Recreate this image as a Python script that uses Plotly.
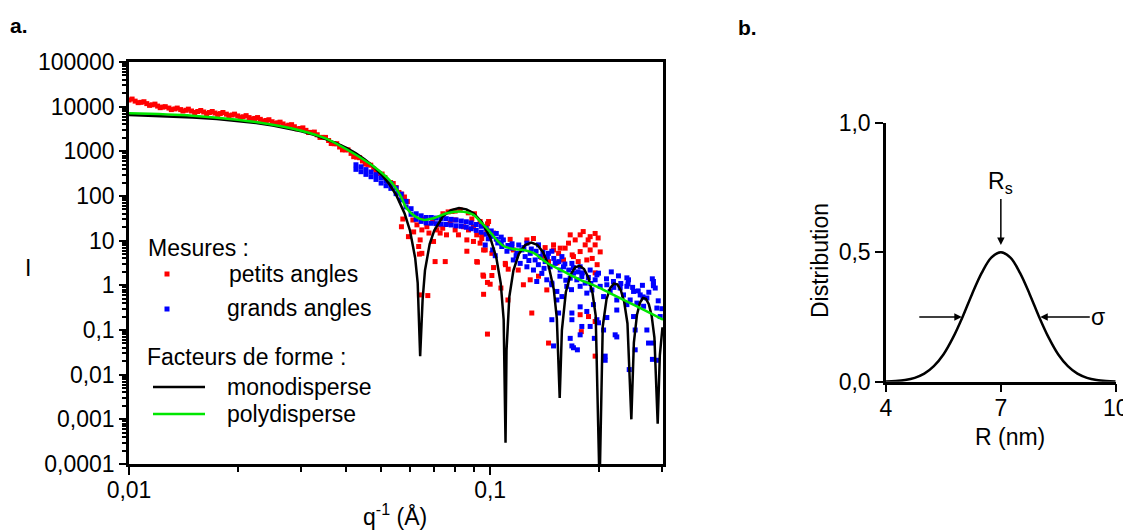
import plotly.graph_objects as go

# ---------- panel a : form factors
q_mono = [0.0100, 0.0125, 0.0150, 0.0175, 0.0200, 0.0225, 0.0250, 0.0275, 0.0300, 0.0325,
          0.0350, 0.0375, 0.0400, 0.0425, 0.0450, 0.0475, 0.0500, 0.0525, 0.0550, 0.0580,
          0.0600, 0.0620, 0.0630, 0.0640, 0.0650, 0.0660, 0.0680, 0.0700, 0.0740, 0.0780,
          0.0820, 0.0860, 0.0900, 0.0950, 0.1000, 0.1040, 0.1070, 0.1090, 0.1103, 0.1110,
          0.1130, 0.1160, 0.1200, 0.1250, 0.1300, 0.1350, 0.1400, 0.1450, 0.1500, 0.1530,
          0.1558, 0.1580, 0.1620, 0.1670, 0.1720, 0.1770, 0.1820, 0.1870, 0.1920, 0.1960,
          0.2009, 0.2050, 0.2100, 0.2150, 0.2200, 0.2250, 0.2300, 0.2350, 0.2400, 0.2460,
          0.2500, 0.2550, 0.2600, 0.2650, 0.2700, 0.2750, 0.2800, 0.2850, 0.2910, 0.2950,
          0.3000]
I_mono = [6525, 6167, 5755, 5298, 4808, 4301, 3789, 3285, 2795, 2334,
          1910, 1527, 1189, 898, 655, 457, 302, 188, 103, 40,
          16.7, 4.1, 1.14, 0.026, 0.47, 2.16, 8.4, 16.8, 35, 48.3,
          53.5, 50.2, 40.9, 25.6, 11.8, 4.2, 1.1, 0.17, 0.0003, 0.035,
          0.55, 2.17, 5.0, 8.0, 9.1, 8.1, 5.6, 2.85, 0.82, 0.18,
          0.003, 0.10, 0.70, 1.73, 2.53, 2.74, 2.32, 1.51, 0.68, 0.21,
          0.00003, 0.12, 0.49, 0.87, 1.09, 1.05, 0.78, 0.43, 0.14, 0.001,
          0.052, 0.22, 0.41, 0.52, 0.50, 0.38, 0.21, 0.068, 0.0008, 0.027,
          0.115]

q_poly = [0.0100, 0.0150, 0.0200, 0.0250, 0.0300, 0.0350, 0.0410, 0.0476, 0.0531, 0.0563,
          0.0587, 0.0620, 0.0654, 0.0697, 0.0758, 0.0826, 0.0899, 0.0938, 0.0979, 0.1022,
          0.1047, 0.1088, 0.1159, 0.1236, 0.1318, 0.1435, 0.1596, 0.1775, 0.1975, 0.2195,
          0.2442, 0.2716, 0.3010]
I_poly = [7100, 6300, 5100, 3950, 2900, 1950, 990, 455, 210, 106,
          53, 35, 29.2, 31.8, 41, 44.9, 37.8, 27, 19, 12.5,
          10, 7.6, 6.5, 6.2, 5.3, 3.2, 2.05, 1.33, 0.94, 0.61,
          0.40, 0.26, 0.17]

# ---------- mesures : petits angles
q_petits = [0.0100, 0.0104, 0.0108, 0.0112, 0.0116, 0.0120, 0.0124, 0.0129, 0.0134, 0.0139,
            0.0144, 0.0149, 0.0155, 0.0161, 0.0167, 0.0173, 0.0179, 0.0186, 0.0193, 0.0200,
            0.0207, 0.0215, 0.0223, 0.0231, 0.0240, 0.0249, 0.0258, 0.0267, 0.0277, 0.0287,
            0.0298, 0.0309, 0.0320, 0.0332, 0.0344, 0.0357, 0.0370, 0.0383, 0.0397, 0.0412,
            0.0427, 0.0443, 0.0459, 0.0476, 0.0493, 0.0511, 0.0530, 0.0549, 0.0569, 0.0590,
            0.0102, 0.0106, 0.0110, 0.0114, 0.0118, 0.0122, 0.0126, 0.0131, 0.0136, 0.0141,
            0.0146, 0.0152, 0.0158, 0.0164, 0.0170, 0.0176, 0.0182, 0.0189, 0.0196, 0.0203,
            0.0211, 0.0219, 0.0227, 0.0235, 0.0244, 0.0253, 0.0262, 0.0272, 0.0282, 0.0292,
            0.0303, 0.0314, 0.0326, 0.0338, 0.0350, 0.0363, 0.0376, 0.0390, 0.0404, 0.0419,
            0.0435, 0.0451, 0.0467, 0.0484, 0.0502, 0.0520, 0.0539, 0.0559, 0.0579,
            0.0573, 0.0611, 0.0627, 0.0614, 0.0647, 0.0668, 0.0677, 0.0640, 0.0634, 0.0647,
            0.0697, 0.0727, 0.0739, 0.0757, 0.0727, 0.0775, 0.0800, 0.0817, 0.0844, 0.0871,
            0.0899, 0.0918, 0.0862, 0.0899, 0.0938, 0.0959, 0.0990, 0.0979, 0.1022, 0.0704,
            0.0751, 0.0862, 0.0918, 0.0959, 0.1011, 0.0826, 0.0784, 0.0568, 0.0594, 0.0654,
            0.0693, 0.0712, 0.0800, 0.0890, 0.0938, 0.0948, 0.0765, 0.0800, 0.0870, 0.0905,
            0.0740, 0.0637, 0.0637, 0.0672, 0.0922, 0.1011, 0.0983, 0.1000, 0.0959, 0.1022,
            0.1071, 0.1120, 0.0983, 0.1103, 0.1122, 0.0983, 0.0948, 0.0969, 0.1101, 0.0955,
            0.1136, 0.1159, 0.1196, 0.1264, 0.1318, 0.1291, 0.1236, 0.1304, 0.1435, 0.1361,
            0.1498, 0.1547, 0.1648, 0.1775, 0.1892, 0.1953, 0.1701, 0.1852, 0.1953, 0.1775,
            0.1596, 0.1531, 0.1451, 0.1775, 0.1451, 0.1953, 0.1720, 0.1833, 0.1892, 0.1953,
            0.1991, 0.1687, 0.1613, 0.1753, 0.1917, 0.1978, 0.1810, 0.1563, 0.1868, 0.2017,
            0.1666, 0.1498, 0.1788, 0.1872, 0.1953, 0.1420, 0.1390]
I_petits = [14100, 13300, 12500, 11700, 11000, 10300, 9800, 9300, 8900, 8600,
            8300, 8000, 7800, 7600, 7400, 7200, 7000, 6800, 6500, 6200,
            5950, 5700, 5450, 5200, 4900, 4600, 4350, 4100, 3850, 3550,
            3250, 2950, 2650, 2350, 2050, 1750, 1480, 1250, 1080, 900,
            740, 610, 510, 400, 320, 260, 200, 155, 110, 75,
            14800, 12300, 12900, 10700, 11400, 9500, 10000, 8600, 9300, 8000,
            8800, 7400, 8200, 7000, 7800, 6700, 7400, 6300, 6800, 5700,
            6300, 5300, 5700, 4800, 5100, 4200, 4500, 3700, 3950, 3200,
            3350, 2650, 2700, 2050, 2050, 1500, 1480, 1080, 1080, 760,
            720, 520, 490, 330, 310, 210, 190, 120, 95,
            30.5, 29, 22.6, 15.7, 17.4, 20.5, 14.8, 10.4, 7.4, 5.2,
            9.6, 14.8, 19.0, 13.5, 22.6, 24.5, 17.4, 13.5, 20.5, 17.4,
            20.5, 13.5, 10.4, 9.6, 8.8, 6.2, 26.8, 17.4, 14.8, 3.4,
            3.4, 5.8, 3.4, 1.6, 5.2, 48.9, 45.2, 20.5, 12.3, 30.5,
            26.8, 17.4, 29.2, 30.5, 26.8, 13.5, 44, 46, 42, 40,
            40, 5.0, 0.61, 0.59, 3.3, 1.66, 1.16, 1.06, 0.63, 2.5,
            0.87, 0.47, 0.081, 2.9, 2.3, 23.8, 11.2, 6.2, 3.1, 1.7,
            10.7, 6.2, 2.2, 10.4, 11.2, 1.33, 1.03, 0.24, 0.79, 1.6,
            8.05, 5.2, 8.8, 13.5, 12.3, 14.5, 4.4, 3.7, 1.9, 5.7,
            3.7, 3.2, 3.4, 0.22, 0.051, 0.155, 10.4, 8.05, 6.2, 8.05,
            11.5, 4.8, 6.8, 3.4, 4.0, 2.9, 16, 6.8, 10.4, 5.6,
            13.5, 6.2, 0.092, 0.2, 0.026, 7.0, 4.2]

# ---------- mesures : grands angles
q_grands = [0.0425, 0.0439, 0.0453, 0.0468, 0.0483, 0.0499, 0.0515, 0.0531, 0.0549, 0.0567,
            0.0585, 0.0604, 0.0624, 0.0644, 0.0665, 0.0687, 0.0709, 0.0732, 0.0756, 0.0780,
            0.0805, 0.0832, 0.0859, 0.0886, 0.0915, 0.0945, 0.0975, 0.1007, 0.1040, 0.1073,
            0.0425, 0.0439, 0.0453, 0.0468, 0.0483, 0.0499, 0.0515, 0.0531, 0.0549, 0.0567,
            0.0585, 0.0604, 0.0624, 0.0644, 0.0665, 0.0687, 0.0709, 0.0732, 0.0756, 0.0780,
            0.0805, 0.0832, 0.0859, 0.0886, 0.0915, 0.0945, 0.0975, 0.1007, 0.1040, 0.1073,
            0.1077, 0.1113, 0.1148, 0.1186, 0.1224, 0.1250, 0.1291, 0.1332, 0.1376, 0.1420,
            0.1450, 0.1466, 0.1514, 0.1563, 0.1596, 0.1211, 0.1264, 0.1159, 0.1318, 0.1390,
            0.1435, 0.1346, 0.1482, 0.1530, 0.1580, 0.1630, 0.1666, 0.1701, 0.1738, 0.1794,
            0.1775, 0.1833, 0.1852, 0.1913, 0.1953, 0.1995, 0.2017, 0.2061, 0.2104, 0.2149,
            0.2195, 0.2242, 0.2291, 0.2340, 0.2391, 0.2416, 0.2442, 0.2495, 0.2549, 0.2603,
            0.2660, 0.2716, 0.2832, 0.2832, 0.2865, 0.2957, 0.2990, 0.1088, 0.1264, 0.1361,
            0.1482, 0.1580, 0.1684, 0.1775, 0.1892, 0.1975, 0.1482, 0.1530, 0.1482, 0.1547,
            0.1666, 0.1684, 0.1775, 0.1794, 0.1852, 0.1932, 0.1975, 0.2061, 0.2104, 0.2219,
            0.2242, 0.2391, 0.2495, 0.2521, 0.2716, 0.2745, 0.2832, 0.1684, 0.1498, 0.1701,
            0.1744, 0.1775, 0.1684, 0.1892, 0.1943, 0.1995, 0.2082, 0.2082, 0.2242, 0.2427,
            0.2521, 0.2814, 0.2895, 0.2895, 0.0969, 0.1016, 0.1050, 0.0988, 0.1033, 0.2391,
            0.2408, 0.2812, 0.2832, 0.2165, 0.2266, 0.1200, 0.1240, 0.1300, 0.1340, 0.1400,
            0.1440, 0.1500, 0.1550, 0.1610, 0.1650, 0.1700, 0.1750, 0.1800, 0.1870, 0.1150,
            0.1120, 0.1180, 0.1280, 0.1360, 0.1410, 0.1560, 0.1620, 0.1680, 0.1900, 0.2100,
            0.2200, 0.2300, 0.2480, 0.2570, 0.2650, 0.2750, 0.2920, 0.2640]
I_grands = [500, 450, 390, 345, 300, 255, 220, 190, 150, 110,
            76, 52, 40, 36, 33, 33, 32, 31.5, 31, 30,
            29, 27.5, 26.5, 25, 23, 21, 19, 16.5, 14.5, 12,
            395, 350, 305, 270, 235, 195, 170, 148, 113, 82,
            57, 39, 30, 27, 25, 24.5, 24, 23.5, 23, 22.5,
            21.5, 21, 20, 18.5, 17, 15.5, 14, 12.5, 10.8, 9,
            7.4, 5.8, 6.8, 5.2, 6.2, 4.4, 5.2, 3.7, 4.4, 3.4,
            5.2, 2.6, 3.1, 2.2, 2.6, 3.1, 2.6, 3.7, 2.2, 1.85,
            1.33, 1.22, 1.03, 0.73, 0.56, 0.95, 1.45, 1.87, 1.33, 1.57,
            0.95, 1.12, 0.67, 0.79, 1.33, 1.87, 0.95, 0.56, 1.03, 0.73,
            1.22, 0.47, 0.87, 0.61, 0.95, 1.33, 0.47, 0.73, 0.40, 0.61,
            0.34, 0.52, 1.22, 1.03, 0.87, 0.20, 0.30, 10.4, 8.8, 8.05,
            5.8, 4.4, 3.1, 2.6, 2.2, 1.72, 1.12, 0.47, 0.17, 0.24,
            0.065, 0.17, 0.33, 0.12, 0.26, 0.37, 0.17, 0.10, 0.19, 0.078,
            0.28, 0.37, 0.20, 0.10, 0.10, 0.051, 0.051, 0.044, 0.044, 0.040,
            0.036, 0.078, 0.24, 0.12, 0.065, 0.145, 0.026, 0.021, 0.07, 0.013,
            0.036, 0.022, 0.021, 0.31, 8, 6.2, 8.9, 11, 4.6, 1.47,
            1.08, 1.40, 0.98, 2.0, 1.63, 8.0, 7.0, 6.5, 5.8, 5.5,
            4.3, 4.0, 3.4, 3.0, 2.2, 2.5, 2.0, 1.9, 1.5, 8.5,
            7.8, 4.6, 3.6, 2.9, 2.4, 1.6, 1.3, 0.8, 1.1, 1.4,
            0.9, 1.1, 0.9, 0.75, 0.55, 0.7, 0.45, 1.0]

# ---------- panel b : size distribution
R_nm = [4.0, 4.25, 4.5, 4.75, 5.0, 5.25, 5.5, 5.75, 6.0, 6.25, 6.5, 6.75, 7.0,
        7.25, 7.5, 7.75, 8.0, 8.25, 8.5, 8.75, 9.0, 9.25, 9.5, 9.75, 10.0]
distribution = [0.001, 0.0027, 0.0066, 0.015, 0.031, 0.060, 0.105, 0.170, 0.25, 0.339, 0.42, 0.479, 0.5,
                0.479, 0.42, 0.339, 0.25, 0.170, 0.105, 0.060, 0.031, 0.015, 0.0066, 0.0027, 0.001]

y_ticks = [1e-4, 1e-3, 1e-2, 1e-1, 1, 10, 100, 1000, 10000, 100000]
y_labels = ["0,0001", "0,001", "0,01", "0,1", "1", "10", "100", "1000", "10000", "100000"]

# the page body has an 8 px margin, so the figure is shifted by it
OFF = 8
W, H = 1131 - OFF, 531 - OFF
FONT = "Liberation Sans, Arial, sans-serif"
FS = 23


def px(x):
    return (x - OFF) / W


def py(y):
    return 1 - (y - OFF) / H


fig = go.Figure()
fig.add_trace(go.Scatter(x=q_petits, y=I_petits, mode="markers",
                         marker=dict(symbol="square", size=5, color="#ff0000"),
                         xaxis="x", yaxis="y"))
fig.add_trace(go.Scatter(x=q_grands, y=I_grands, mode="markers",
                         marker=dict(symbol="square", size=5, color="#0000ff"),
                         xaxis="x", yaxis="y"))
fig.add_trace(go.Scatter(x=q_mono, y=I_mono, mode="lines",
                         line=dict(color="black", width=2.5), xaxis="x", yaxis="y"))
fig.add_trace(go.Scatter(x=q_poly, y=I_poly, mode="lines",
                         line=dict(color="#00e600", width=2.5, shape="spline"),
                         xaxis="x", yaxis="y"))
fig.add_trace(go.Scatter(x=R_nm, y=distribution, mode="lines",
                         line=dict(color="black", width=2.5, shape="spline"),
                         xaxis="x2", yaxis="y2"))

axis_common = dict(showgrid=False, zeroline=False, showline=True, linecolor="black",
                   linewidth=2.5, ticks="outside", tickcolor="black", tickwidth=2,
                   automargin=False,
                   tickfont=dict(family=FONT, size=FS, color="black"))

x_minor = [0.02, 0.03, 0.04, 0.05, 0.06, 0.07, 0.08, 0.09, 0.2, 0.3]
y_minor = [m * 10 ** e for e in range(-4, 5) for m in range(2, 10)]

fig.update_layout(
    width=W, height=H,
    margin=dict(l=0, r=0, t=0, b=0, pad=0),
    paper_bgcolor="white", plot_bgcolor="white",
    showlegend=False,
    font=dict(family=FONT, size=FS, color="black"),
    xaxis=dict(axis_common, type="log", range=[-2, -0.5214],
               domain=[px(129), px(663)], anchor="y", mirror=True,
               tickvals=[0.01, 0.1], ticktext=["0,01", "0,1"], ticklen=8,
               ticklabelstandoff=-4,
               minor=dict(tickvals=x_minor, ticks="outside", ticklen=5,
                          tickwidth=1.5, tickcolor="black")),
    yaxis=dict(axis_common, type="log", range=[-4, 5],
               domain=[py(464), py(62)], anchor="x", mirror=True,
               tickvals=y_ticks, ticktext=y_labels, ticklen=7,
               minor=dict(tickvals=y_minor, ticks="outside", ticklen=4,
                          tickwidth=1.5, tickcolor="black")),
    xaxis2=dict(axis_common, range=[4, 10], domain=[px(886), px(1115.7)],
                anchor="y2", tickvals=[4, 7, 10], ticktext=["4", "7", "10"], ticklen=8,
                ticklabelstandoff=-4),
    yaxis2=dict(axis_common, range=[0, 1], domain=[py(381.7), py(122.7)],
                anchor="x2", tickvals=[0, 0.5, 1], ticktext=["0,0", "0,5", "1,0"], ticklen=8),
)

# legend of panel a, drawn by hand
fig.add_shape(type="line", xref="paper", yref="paper", x0=px(153), x1=px(205),
              y0=py(387), y1=py(387), line=dict(color="black", width=2.5))
fig.add_shape(type="line", xref="paper", yref="paper", x0=px(153), x1=px(205),
              y0=py(414), y1=py(414), line=dict(color="#00e600", width=2.5))
fig.add_shape(type="rect", xref="paper", yref="paper", x0=px(164.5), x1=px(169.5),
              y0=py(276.5), y1=py(271.5), fillcolor="#ff0000", line=dict(width=0))
fig.add_shape(type="rect", xref="paper", yref="paper", x0=px(164.5), x1=px(169.5),
              y0=py(311.5), y1=py(306.5), fillcolor="#0000ff", line=dict(width=0))


def label(text, x, y, xanchor="left", size=FS, angle=0):
    fig.add_annotation(text=text, x=px(x), y=py(y), xref="paper", yref="paper",
                       xanchor=xanchor, yanchor="middle", showarrow=False,
                       textangle=angle, font=dict(family=FONT, size=size, color="black"))


label("Mesures :", 146, 248)
label("petits angles", 227, 274)
label("grands angles", 225, 308)
label("Facteurs de forme :", 145, 357)
label("monodisperse", 225, 387)
label("polydisperse", 225, 414)
label("<b>a.</b>", 8, 25, size=21)
label("<b>b.</b>", 736, 28, size=21)
label("I", 28, 268, xanchor="center")
label("q<sup>-1</sup> (Å)", 395, 515, xanchor="center")
label("Distribution", 820, 261, xanchor="center", angle=-90)
label("R (nm)", 1010, 437, xanchor="center")

arrow = dict(xref="x2", yref="y2", showarrow=True, arrowhead=2, arrowsize=1,
             arrowwidth=1.5, arrowcolor="black", standoff=0,
             font=dict(family=FONT, size=FS, color="black"))
fig.add_annotation(arrow, text="R<sub>s</sub>", x=7, y=0.528, ax=0, ay=-62)
fig.add_annotation(arrow, text=" ", x=5.98, y=0.25, ax=-47, ay=0)
fig.add_annotation(arrow, text="σ", x=8.03, y=0.25, ax=58, ay=0)

fig.write_html("out.html")
